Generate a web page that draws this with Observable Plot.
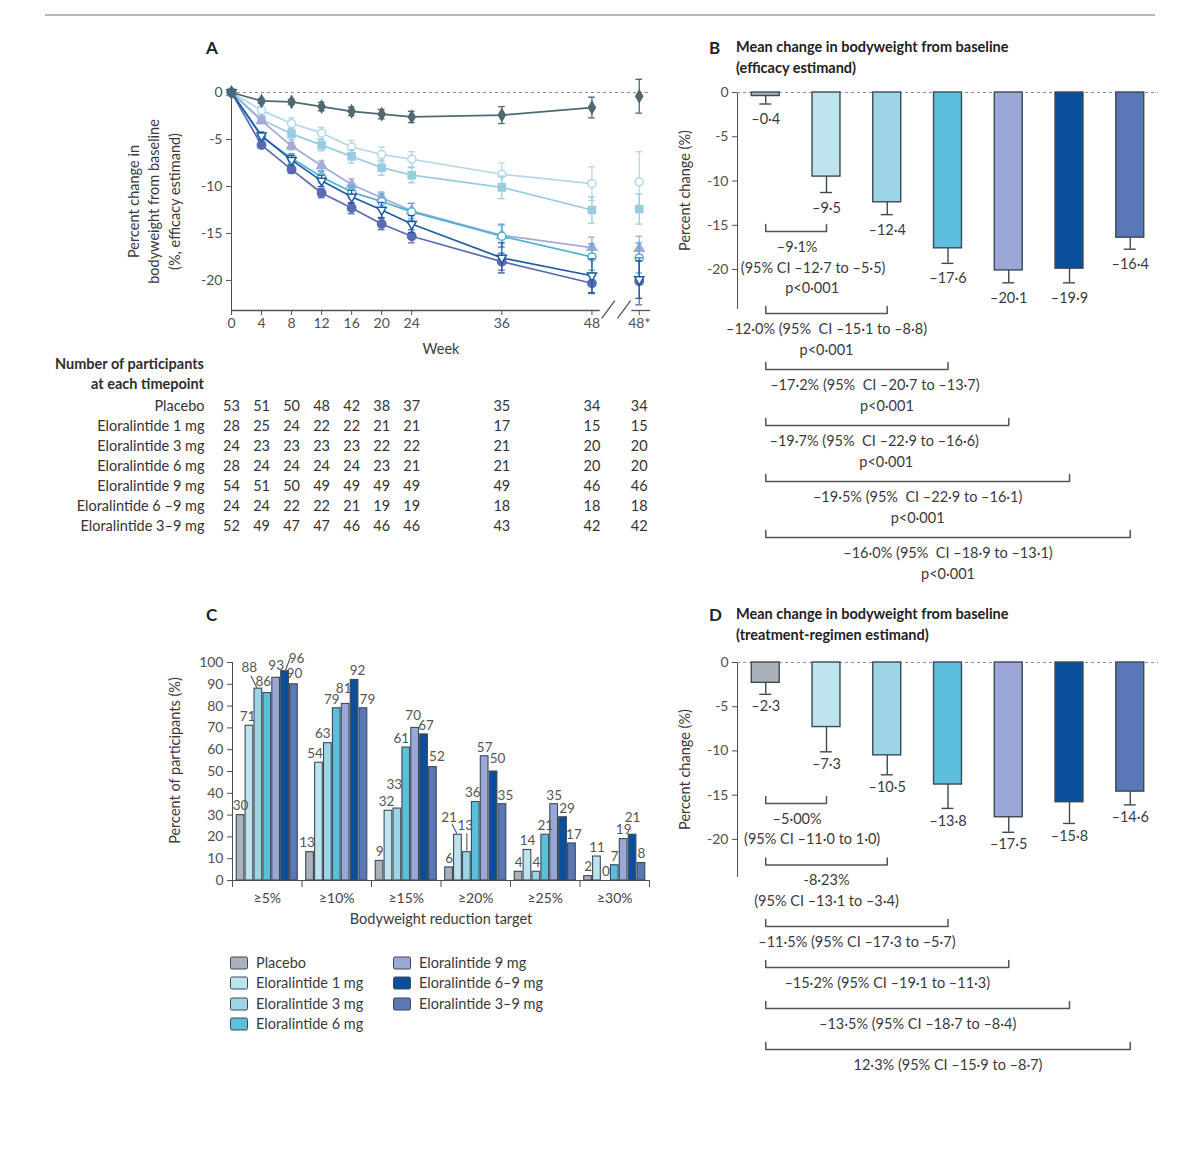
<!DOCTYPE html>
<html><head><meta charset="utf-8">
<script src="https://cdn.jsdelivr.net/npm/d3@7"></script>
<script src="https://cdn.jsdelivr.net/npm/@observablehq/plot@0.6"></script>
<style>
body{margin:0;background:#fff;}
#page{position:relative;width:1200px;height:1152px;font-family:Lato,'Open Sans',sans-serif;color:#3a3a3a;overflow:hidden;background:#fff}
#page svg{position:absolute;left:0;top:0}
.t{position:absolute;white-space:nowrap;line-height:1}
.sw{position:absolute;width:16px;height:11px;border:1.4px solid #3d4954;border-radius:2px;transform:translate(0,-50%)}
</style></head><body><div id="page"></div>
<script>
// ---------------- DATA ----------------
const groups = ["Placebo","Eloralintide 1 mg","Eloralintide 3 mg","Eloralintide 6 mg","Eloralintide 9 mg","Eloralintide 6–9 mg","Eloralintide 3–9 mg"];
const tableLabels = ["Placebo","Eloralintide 1 mg","Eloralintide 3 mg","Eloralintide 6 mg","Eloralintide 9 mg","Eloralintide 6 –9 mg","Eloralintide 3–9 mg"];
const barColors = ["#a9b1b9","#bde3ef","#9dd4e6","#5bbedb","#9ba7d6","#0b4f9b","#5a77b8"];

// Panel A: weeks (last = 48*, drawn after the axis break)
const weeks = [0,4,8,12,16,20,24,36,48];
const weekTickLabels = ["0","4","8","12","16","20","24","36","48","48*"];
const placeboA = [0,-0.9,-1.0,-1.5,-2.0,-2.3,-2.6,-2.4,-1.6,-0.4];
const placeboErr = [0,0.25,0.25,0.45,0.45,0.5,0.6,0.9,1.1,1.8];
const mg1A = [0,-1.9,-3.3,-4.3,-5.8,-6.6,-7.1,-8.7,-9.7,-9.5];
const mg1Err = [0,0.4,0.6,0.6,0.7,0.8,0.8,1.2,1.8,3.2];
const mg3A = [0,-2.9,-4.4,-5.6,-6.8,-8.0,-8.8,-10.1,-12.5,-12.4];
const mg3Err = [0,0.4,0.6,0.6,0.7,0.8,0.8,1.2,1.4,1.6];
const mg6A = [0,-4.7,-7.0,-9.0,-10.6,-11.6,-12.7,-15.3,-17.5,-17.6];
const mg6Err = [0,0.4,0.5,0.6,0.7,0.8,0.9,1.2,1.4,1.6];
const mg9A = [0,-5.6,-8.2,-10.7,-12.3,-14.0,-15.3,-18.0,-20.3,-20.1];
const mg9Err = [0,0.3,0.4,0.5,0.6,0.6,0.7,0.9,1.1,2.5];
const mg69A = [0,-4.6,-7.2,-9.4,-11.1,-12.5,-14.0,-17.6,-19.5,-19.9];
const mg69Err = [0,0.4,0.5,0.6,0.7,0.8,0.9,1.6,1.8,2.0];
const mg39A = [0,-3.0,-5.7,-7.8,-9.8,-11.2,-12.6,-15.2,-16.5,-16.6];
const mg39Err = [0,0.3,0.4,0.5,0.6,0.6,0.8,1.2,1.1,1.3];

// Participants at each timepoint
const nPlacebo = [53,51,50,48,42,38,37,35,34,34];
const n1 = [28,25,24,22,22,21,21,17,15,15];
const n3 = [24,23,23,23,23,22,22,21,20,20];
const n6 = [28,24,24,24,24,23,21,21,20,20];
const n9 = [54,51,50,49,49,49,49,49,46,46];
const n69 = [24,24,22,22,21,19,19,18,18,18];
const n39 = [52,49,47,47,46,46,46,43,42,42];

// Panel B (efficacy estimand) and D (treatment-regimen estimand)
const effMean = [-0.4,-9.5,-12.4,-17.6,-20.1,-19.9,-16.4];
const effErr = [0.9,1.8,1.4,1.7,1.4,1.6,1.3];
const trMean = [-2.3,-7.3,-10.5,-13.8,-17.5,-15.8,-14.6];
const trErr = [1.3,2.8,2.2,2.7,1.7,2.4,1.5];
const compB = [
  ["–9·1%","(95% CI –12·7 to –5·5)","p<0·001"],
  ["–12·0% (95%  CI –15·1 to –8·8)","p<0·001"],
  ["–17·2% (95%  CI –20·7 to –13·7)","p<0·001"],
  ["–19·7% (95%  CI –22·9 to –16·6)","p<0·001"],
  ["–19·5% (95%  CI –22·9 to –16·1)","p<0·001"],
  ["–16·0% (95%  CI –18·9 to –13·1)","p<0·001"]
];
const compD = [
  ["–5·00%","(95% CI –11·0 to 1·0)"],
  ["-8·23%","(95% CI –13·1 to –3·4)"],
  ["–11·5% (95% CI –17·3 to –5·7)"],
  ["–15·2% (95% CI –19·1 to –11·3)"],
  ["–13·5% (95% CI –18·7 to –8·4)"],
  ["12·3% (95% CI –15·9 to –8·7)"]
];

// Panel C: percent of participants reaching target
const targets = ["≥5%","≥10%","≥15%","≥20%","≥25%","≥30%"];
const cPlacebo = [30,13,9,6,4,2];
const c1 = [71,54,32,21,14,11];
const c3 = [88,63,33,13,4,0];
const c6 = [86,79,61,36,21,7];
const c9 = [93,81,70,57,35,19];
const c69 = [96,92,67,50,29,21];
const c39 = [90,79,52,35,17,8];

// ---------------- LAYOUT / STYLE ----------------
const page = document.getElementById("page");
const FONT = "Lato, 'Open Sans', sans-serif";
const baseStyle = {background:"transparent", fontFamily:FONT, fontSize:"14px", color:"#4f4f4f", overflow:"visible"};
const ink = "#3d4954";
function mount(el){ el.style.position="absolute"; el.style.left="0px"; el.style.top="0px"; page.appendChild(el); return el; }
function htext(x, y, str, {size=14.5, weight=400, anchor="start", color="#3a3a3a"}={}) {
  const d = document.createElement("div");
  d.className="t"; d.textContent=str;
  d.style.left=x+"px"; d.style.top=y+"px"; d.style.fontSize=size+"px"; d.style.fontWeight=weight; d.style.color=color;
  const tx = anchor==="middle"?"-50%":anchor==="end"?"-100%":"0";
  d.style.transform=`translate(${tx},-50%)`;
  page.appendChild(d);
}
const fmt = v => (v<0?"–":"") + Math.abs(v).toFixed(1).replace(".","·");

// top rule
const rule = document.createElement("div");
Object.assign(rule.style,{position:"absolute",left:"45px",top:"14px",width:"1110px",height:"2px",background:"#b8b8b8"});
page.appendChild(rule);

// ---------------- PANEL A ----------------
const weekPos = [...weeks, 54.3];
const meansA = [placeboA, mg1A, mg3A, mg6A, mg9A, mg69A, mg39A];
const errsA = [placeboErr, mg1Err, mg3Err, mg6Err, mg9Err, mg69Err, mg39Err];
const lineColorsA = ["#4e6973","#b3d8e7","#98cde0","#4cb3d4","#5a6bb3","#1f5c9f","#a3aad6"];
const sqrt3 = Math.sqrt(3);
const triangleDown = {draw(ctx,size){const y=-Math.sqrt(size/(sqrt3*3)); ctx.moveTo(0,-y*2); ctx.lineTo(-sqrt3*y,y); ctx.lineTo(sqrt3*y,y); ctx.closePath();}};
const symbolsA = ["diamond","circle","square","circle","circle",triangleDown,"triangle"];
const sizesA = [3.6,4.0,4.0,4.0,4.2,3.4,3.6];
const filledA = [true,false,true,false,true,false,true];
const drawOrder = [1,2,6,3,4,5,0];
const A = {left:231,right:650,top:92,bottom:310};
const yMinA = -23.2;

const marksA = [
  Plot.ruleY([0],{stroke:"#8193a0",strokeDasharray:"3,3",strokeWidth:1.2}),
  Plot.ruleY([yMinA],{x1:0,x2:49.1,stroke:"#555",strokeWidth:1.3}),
  Plot.ruleY([yMinA],{x1:53.3,x2:55.8,stroke:"#555",strokeWidth:1.3}),
  Plot.link([49.3,51.4],{x1:d=>d,x2:d=>d+1.75,y1:yMinA-0.85,y2:yMinA+1.05,stroke:"#555",strokeWidth:1.3})
];
for (const s of drawOrder) {
  const rows = weekPos.map((x,i)=>({x, y:meansA[s][i], e:errsA[s][i]}));
  const c = lineColorsA[s];
  const eb = rows.filter(d=>d.e>0);
  marksA.push(
    Plot.line(rows.slice(0,9),{x:"x",y:"y",stroke:c,strokeWidth:1.7}),
    Plot.ruleX(eb,{x:"x",y1:d=>d.y-d.e,y2:d=>d.y+d.e,stroke:c,strokeWidth:1.3}),
    Plot.ruleY(eb,{y:d=>d.y-d.e,x1:d=>d.x-0.45,x2:d=>d.x+0.45,stroke:c,strokeWidth:1.3}),
    Plot.ruleY(eb,{y:d=>d.y+d.e,x1:d=>d.x-0.45,x2:d=>d.x+0.45,stroke:c,strokeWidth:1.3}),
    Plot.dot(rows,{x:"x",y:"y",symbol:()=>symbolsA[s],r:sizesA[s],fill:filledA[s]?c:"white",stroke:c,strokeWidth:1.5})
  );
}
marksA.push(
  Plot.text(["Percent change in\nbodyweight from baseline\n(%, efficacy estimand)"],{text:d=>d,frameAnchor:"left",textAnchor:"middle",dx:-79,rotate:-90,lineHeight:1.42,fontSize:14.5,fill:"#3a3a3a"}),
  Plot.text(["Week"],{text:d=>d,frameAnchor:"bottom",dy:43,fontSize:14.5,fill:"#3a3a3a"})
);
mount(Plot.plot({
  width:1200,height:1152,marginLeft:A.left,marginRight:1200-A.right,marginTop:A.top,marginBottom:1152-A.bottom,
  style:baseStyle,
  x:{domain:[0,55.8],ticks:weekPos,tickFormat:d=>weekTickLabels[weekPos.indexOf(d)],tickSize:5,tickPadding:3,label:null},
  y:{domain:[yMinA,0],ticks:[-20,-15,-10,-5,0],tickFormat:d=>d===0?"0":"-"+Math.abs(d),tickSize:5,tickPadding:4,line:true,label:null},
  marks:marksA
}));

// participants table
const nArrays = [nPlacebo,n1,n3,n6,n9,n69,n39];
const tableRows = [];
nArrays.forEach((arr,gi)=>arr.forEach((n,j)=>tableRows.push({g:tableLabels[gi],x:weekPos[j],n})));
mount(Plot.plot({
  width:1200,height:1152,marginLeft:A.left,marginRight:1200-A.right,marginTop:395,marginBottom:1152-537,
  style:{...baseStyle,fontSize:"14.5px"},
  x:{domain:[0,55.8],axis:null},
  y:{type:"point",domain:tableLabels,range:[405,527],padding:0,axis:null},
  marks:[
    Plot.text(tableRows,{x:"x",y:"g",text:d=>String(d.n),fill:"#333"}),
    Plot.text(tableLabels,{y:d=>d,text:d=>d,frameAnchor:"left",dx:-27,textAnchor:"end",fill:"#333"})
  ]
}));
htext(204,364,"Number of participants",{weight:700,anchor:"end",size:14.5,color:"#2e2e2e"});
htext(204,384,"at each timepoint",{weight:700,anchor:"end",size:14.5,color:"#2e2e2e"});

// ---------------- PANELS B & D ----------------
const BX = {left:737,right:1158,paddingInner:0.54,paddingOuter:0.235};
const band = d3.scaleBand().domain(groups).range([BX.left,BX.right]).paddingInner(BX.paddingInner).paddingOuter(BX.paddingOuter).align(0.5);
const bandCenter = g => band(g)+band.bandwidth()/2;

function barPanel({top,bottom,yMin,means,errs,labelDy,yLabelDy}) {
  const rows = groups.map((g,i)=>({g,v:means[i],lo:means[i]-errs[i]}));
  return Plot.plot({
    width:1200,height:1152,marginLeft:BX.left,marginRight:1200-BX.right,marginTop:top,marginBottom:1152-bottom,
    style:baseStyle,
    x:{type:"band",domain:groups,paddingInner:BX.paddingInner,paddingOuter:BX.paddingOuter,align:0.5,round:false,axis:null},
    y:{domain:[yMin,0],ticks:[-20,-15,-10,-5,0],tickFormat:d=>d===0?"0":"-"+Math.abs(d),tickSize:5,tickPadding:4,line:true,label:null},
    color:{domain:groups,range:barColors},
    marks:[
      Plot.ruleY([0],{stroke:"#8193a0",strokeDasharray:"3,3",strokeWidth:1.2}),
      Plot.barY(rows,{x:"g",y:"v",fill:"g",stroke:ink,strokeWidth:1.4}),
      Plot.ruleX(rows,{x:"g",y1:"v",y2:"lo",stroke:ink,strokeWidth:1.4}),
      Plot.tickY(rows,{x:"g",y:"lo",insetLeft:8,insetRight:8,stroke:ink,strokeWidth:1.4}),
      Plot.text(rows,{x:"g",y:"lo",dy:labelDy,text:d=>fmt(d.v),fontSize:14.5,fill:"#3a3a3a"}),
      Plot.text(["Percent change (%)"],{text:d=>d,frameAnchor:"left",textAnchor:"middle",dx:-52,dy:yLabelDy,rotate:-90,fontSize:14.5,fill:"#3a3a3a"})
    ]
  });
}
mount(barPanel({top:92,bottom:308,yMin:-24.4,means:effMean,errs:effErr,labelDy:15.5,yLabelDy:-10}));
mount(barPanel({top:662,bottom:876,yMin:-24.2,means:trMean,errs:trErr,labelDy:12.5,yLabelDy:0}));

// comparison brackets (annotation layer, page coordinates)
function brackets(comps, y0, heightFor, firstDy, lineGap, shifts) {
  const lines = [], texts = [];
  let y = y0;
  comps.forEach((c,k)=>{
    const xL = bandCenter(groups[0]), xR = bandCenter(groups[k+1]);
    const id = y0+"-"+k;
    lines.push({id,x:xL,y:y-7},{id,x:xL,y},{id,x:xR,y},{id,x:xR,y:y-7});
    c.forEach((t,j)=>texts.push({t,x:(xL+xR)/2+((shifts[k]||[])[j]||0),y:y+firstDy+j*lineGap}));
    y += heightFor(c.length);
  });
  return [
    Plot.line(lines,{x:"x",y:"y",z:"id",stroke:"#555",strokeWidth:1.5}),
    Plot.text(texts,{x:"x",y:"y",text:"t",fontSize:14.5,fill:"#3a3a3a"})
  ];
}
mount(Plot.plot({
  width:1200,height:1152,margin:0,style:baseStyle,
  x:{domain:[0,1200],range:[0,1200],axis:null},
  y:{domain:[0,1152],range:[0,1152],axis:null},
  marks:[
    ...brackets(compB,231,n=>30+26*(n-1),16,20.5,[[1,17,16],[0,0],[18,30],[-13,-1],[0,0],[0,0]]),
    ...brackets(compD,803,n=>41+20.5*(n-1),15.5,20.5,[[1,16],[0,0]])
  ]
}));

// ---------------- PANEL C ----------------
const C = {left:232,right:649,top:662,bottom:880};
const kx = (C.right-C.left)/6, ky = (C.bottom-C.top)/100;
const cSeries = [cPlacebo,c1,c3,c6,c9,c69,c39];
const barOff = 0.052, barW = 0.128;
const cRows = [];
cSeries.forEach((arr,i)=>arr.forEach((v,g)=>cRows.push({g,i,s:groups[i],v,x1:g+barOff+barW*i,x2:g+barOff+barW*(i+1)})));
const nudge = {"0-1":[-2,0],"0-2":[-9,-12],"0-3":[-4,-2],"0-4":[0,-3],"0-5":[11.5,-4],"0-6":[0.5,-2],
  "1-0":[-3,0],"1-1":[-4,0],"1-2":[-5,0],"1-3":[-5,0],"1-4":[-2,-6],"1-5":[3,0],"1-6":[4,0],
  "2-1":[-2,0],"2-2":[-3,-15],"2-3":[-5,0],"2-4":[-2,-3],"2-5":[2,0],"2-6":[4,-1],
  "3-1":[-9,-8],"3-2":[-1.5,-17],"3-3":[-3,0],"3-5":[4,-4],"3-6":[3,0],
  "4-5":[4,0],"4-6":[2,0],"5-5":[0,-8]};
const cLabels = cRows.map(d=>{const [dx,ey]=nudge[d.g+"-"+d.i]||[0,0]; return {t:String(d.v),x:(d.x1+d.x2)/2+dx/kx,y:d.v-ey/ky};});
const leaderSpec = [[0,2,-7.5,-13,-1.5,-1],[0,5,5,-13,0.5,-1],[3,1,-6,-11,-1,-1],[3,2,0,-19,0,-1.5]];
const leaders = leaderSpec.map(([g,i,sx,sy,ex,ey])=>{const d=cRows.find(r=>r.g===g&&r.i===i); const cx=(d.x1+d.x2)/2; return {x1:cx+sx/kx,y1:d.v-sy/ky,x2:cx+ex/kx,y2:d.v-ey/ky};});
mount(Plot.plot({
  width:1200,height:1152,marginLeft:C.left,marginRight:1200-C.right,marginTop:C.top,marginBottom:1152-C.bottom,
  style:baseStyle,
  x:{domain:[0,6],ticks:[0,1,2,3,4,5,6],tickFormat:()=>"",tickSize:7,line:true,label:null},
  y:{domain:[0,100],ticks:d3.range(0,101,10),tickSize:5,tickPadding:4,line:true,label:null},
  color:{domain:groups,range:barColors},
  marks:[
    Plot.rect(cRows,{x1:"x1",x2:"x2",y1:()=>0,y2:"v",fill:"s",stroke:ink,strokeWidth:1.1,insetLeft:0.6,insetRight:0.6}),
    Plot.link(leaders,{x1:"x1",y1:"y1",x2:"x2",y2:"y2",stroke:"#555",strokeWidth:1.1}),
    Plot.text(cLabels,{x:"x",y:"y",dy:-9,text:"t",fontSize:13.5,fill:"#555"}),
    Plot.text(targets,{x:(d,i)=>i+0.5,y:()=>0,dy:18,text:d=>d,fontSize:14,fill:"#444"}),
    Plot.text(["Bodyweight reduction target"],{text:d=>d,frameAnchor:"bottom",dy:43,fontSize:14.5,fill:"#3a3a3a"}),
    Plot.text(["Percent of participants (%)"],{text:d=>d,frameAnchor:"left",textAnchor:"middle",dx:-57,dy:-11,rotate:-90,fontSize:14.5,fill:"#3a3a3a"})
  ]
}));

// legend for panel C
groups.forEach((g,i)=>{
  const col = i<4?0:1, row = i<4?i:i-4;
  const x = col===0?230:393, y = 963+row*20.4;
  const sw = document.createElement("div"); sw.className="sw";
  sw.style.left=x+"px"; sw.style.top=y+"px"; sw.style.background=barColors[i];
  page.appendChild(sw);
  htext(x+26,y,g,{size:14.5,color:"#3a3a3a"});
});

// panel titles
htext(206,47,"A",{size:17,weight:700,color:"#222"});
htext(709,47,"B",{size:17,weight:700,color:"#222"});
htext(736,47,"Mean change in bodyweight from baseline",{size:14.5,weight:700,color:"#222"});
htext(736,68,"(efficacy estimand)",{size:14.5,weight:700,color:"#222"});
htext(206,614,"C",{size:17,weight:700,color:"#222"});
htext(709,614,"D",{size:17,weight:700,color:"#222"});
htext(736,614,"Mean change in bodyweight from baseline",{size:14.5,weight:700,color:"#222"});
htext(736,635,"(treatment-regimen estimand)",{size:14.5,weight:700,color:"#222"});
</script></body></html>
